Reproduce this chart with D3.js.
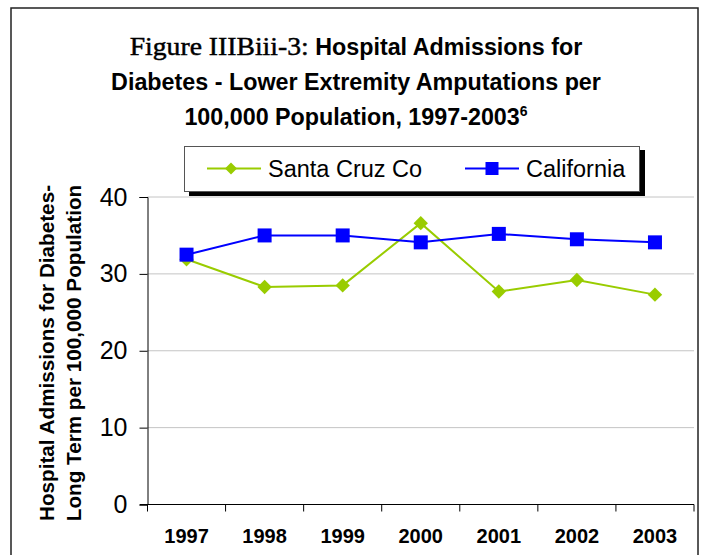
<!DOCTYPE html>
<html>
<head>
<meta charset="utf-8">
<script src="https://cdn.jsdelivr.net/npm/d3@7"></script>
<style>
  html, body { margin: 0; padding: 0; background: #fff; }
  svg { display: block; }
  text { font-family: "Liberation Sans", Arial, sans-serif; fill: #000; }
</style>
</head>
<body>
<script>
const years = ["1997", "1998", "1999", "2000", "2001", "2002", "2003"]
const santaCruz = [31.9, 28.3, 28.5, 36.6, 27.7, 29.2, 27.3]
const california = [32.5, 35.0, 35.0, 34.1, 35.2, 34.5, 34.1]
const yTicks = [0, 10, 20, 30, 40]
const seriesNames = ["Santa Cruz Co", "California"]
const titleLines = ["Diabetes - Lower Extremity Amputations per", "100,000 Population, 1997-2003"]
const yTitle = ["Hospital Admissions for Diabetes-", "Long Term per 100,000 Population"]

const width = 702, height = 555
const green = "#99cc00", blue = "#0000ff"

const svg = d3.select("body").append("svg").attr("width", width).attr("height", height)

// outer frame
svg.append("rect").attr("x", 11).attr("y", 8).attr("width", 687).attr("height", 600)
    .attr("fill", "none").attr("stroke", "#222").attr("stroke-width", 1.5)

const xScale = d3.scaleBand().domain(years).range([147.5, 694])
const yScale = d3.scaleLinear().domain([0, 40]).range([504.5, 197])
const cx = d => xScale(d) + xScale.bandwidth() / 2

// gridlines
svg.append("g").selectAll("line").data(yTicks.filter(t => t > 0)).join("line")
    .attr("x1", 147.5).attr("x2", 694)
    .attr("y1", d => yScale(d)).attr("y2", d => yScale(d))
    .attr("stroke", "#c4c4c4").attr("stroke-width", 1)

// y axis
const yAxis = svg.append("g").attr("transform", "translate(147.5,0)")
    .call(d3.axisLeft(yScale).tickValues(yTicks).tickSize(8).tickPadding(12).tickFormat(d3.format("d")))
yAxis.select(".domain").attr("stroke", "#000")
yAxis.selectAll(".tick line").attr("stroke", "#000")
yAxis.selectAll("text").style("font-size", "25px").attr("font-family", null)

// x axis: line, boundary ticks, labels
const xg = svg.append("g")
xg.append("line").attr("x1", 140).attr("x2", 694).attr("y1", yScale(0)).attr("y2", yScale(0)).attr("stroke", "#000")
xg.selectAll(".bt").data(years.map(y => xScale(y)).concat([xScale.range()[1]])).join("line")
    .attr("class", "bt")
    .attr("x1", d => d).attr("x2", d => d)
    .attr("y1", yScale(0)).attr("y2", yScale(0) + 7).attr("stroke", "#000")
xg.selectAll("text").data(years).join("text")
    .attr("x", cx).attr("y", 542.5).attr("text-anchor", "middle")
    .style("font-size", "20px").style("font-weight", "bold").text(d => d)

// series
const line = d3.line().x((d, i) => cx(years[i])).y(d => yScale(d))
svg.append("path").datum(santaCruz).attr("d", line).attr("fill", "none").attr("stroke", green).attr("stroke-width", 2)
svg.append("path").datum(california).attr("d", line).attr("fill", "none").attr("stroke", blue).attr("stroke-width", 2)

const diamond = (x, y, r) => `M${x},${y - r}L${x + r},${y}L${x},${y + r}L${x - r},${y}Z`
svg.append("g").selectAll("path").data(santaCruz).join("path")
    .attr("d", (d, i) => diamond(cx(years[i]), yScale(d), 7.2)).attr("fill", green)
svg.append("g").selectAll("rect").data(california).join("rect")
    .attr("x", (d, i) => cx(years[i]) - 7).attr("y", d => yScale(d) - 7)
    .attr("width", 14).attr("height", 14).attr("fill", blue)

// title
const title = svg.append("g").attr("text-anchor", "middle")
const t1 = title.append("text").attr("x", 356).attr("y", 54.5).style("font-size", "23.3px")
t1.append("tspan").text("Figure IIIBiii-3:")
    .style("font-family", "'Book Antiqua','Palatino Linotype','Liberation Serif',serif")
    .style("font-size", "25.5px").style("stroke", "#000").style("stroke-width", "0.45px")
    .attr("textLength", 179).attr("lengthAdjust", "spacingAndGlyphs")
t1.append("tspan").text(" Hospital Admissions for").style("font-weight", "bold")
title.append("text").attr("x", 356).attr("y", 89.5).style("font-size", "23.3px").style("font-weight", "bold")
    .text(titleLines[0])
const t3 = title.append("text").attr("x", 356).attr("y", 125).style("font-size", "23.3px").style("font-weight", "bold")
t3.append("tspan").text(titleLines[1])
t3.append("tspan").text("6").attr("dy", -9.5).style("font-size", "14px")

// y axis title
svg.append("g").selectAll("text").data(yTitle).join("text")
    .attr("transform", (d, i) => `translate(${53.5 + i * 27.5},353) rotate(-90)`)
    .attr("text-anchor", "middle").style("font-size", "20.7px").style("font-weight", "bold")
    .text(d => d)

// legend
const lg = svg.append("g")
lg.append("rect").attr("x", 189).attr("y", 150).attr("width", 456).attr("height", 46).attr("fill", "#000")
lg.append("rect").attr("x", 184.5).attr("y", 146.5).attr("width", 455).attr("height", 45)
    .attr("fill", "#fff").attr("stroke", "#555").attr("stroke-width", 1)
const items = [
  {name: seriesNames[0], color: green, x0: 207, tx: 268, shape: "diamond"},
  {name: seriesNames[1], color: blue, x0: 465, tx: 526, shape: "square"}
]
items.forEach(it => {
  lg.append("line").attr("x1", it.x0).attr("x2", it.x0 + 54).attr("y1", 168.5).attr("y2", 168.5)
      .attr("stroke", it.color).attr("stroke-width", 2)
  if (it.shape === "diamond") {
    lg.append("path").attr("d", diamond(it.x0 + 24, 168.5, 6)).attr("fill", it.color)
  } else {
    lg.append("rect").attr("x", it.x0 + 27 - 6.5).attr("y", 162).attr("width", 13).attr("height", 13).attr("fill", it.color)
  }
  lg.append("text").attr("x", it.tx).attr("y", 176.5).style("font-size", "23.5px").text(it.name)
})
</script>
</body>
</html>
